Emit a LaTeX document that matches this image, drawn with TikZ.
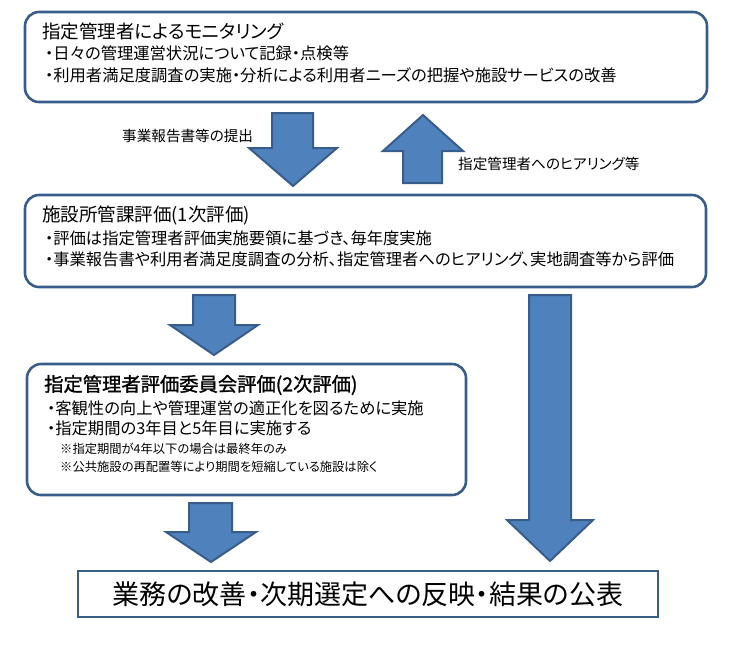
\documentclass[tikz,border=0pt]{standalone}
\usepackage{fontspec}
\setmainfont{Noto Sans CJK JP}[RawFeature=+palt]
\newfontfamily\semiboldjp{Noto Sans CJK JP}[RawFeature=+palt, FakeBold=1.2]
\definecolor{boxline}{HTML}{385D8A}
\definecolor{arrowfill}{HTML}{4F81BD}
\tikzset{
  panel/.style={draw=boxline, line width=2.6pt, rounded corners=14pt},
  plainpanel/.style={draw=boxline, line width=2.6pt},
  blockarrow/.style={draw=boxline, fill=arrowfill, line width=2pt, line join=miter},
  titletext/.style={anchor=west, inner sep=0pt, font=\fontsize{18.5}{20}\selectfont},
  bigtitletext/.style={anchor=west, inner sep=0pt, font=\semiboldjp\fontsize{19.3}{22}\selectfont},
  bodytext/.style={anchor=west, inner sep=0pt, font=\fontsize{16.3}{19}\selectfont},
  notetext/.style={anchor=west, inner sep=0pt, font=\fontsize{12.3}{14}\selectfont},
  labeltext/.style={anchor=west, inner sep=0pt, font=\fontsize{14.6}{17}\selectfont},
  resulttext/.style={anchor=center, inner sep=0pt, font=\fontsize{27}{30}\selectfont},
}
\begin{document}
\begin{tikzpicture}[x=1pt, y=-1pt]
\useasboundingbox (0,0) rectangle (731,649);
% panels
\draw[panel] (25,12) rectangle (707,102);
\draw[panel] (25,195) rectangle (706,287);
\draw[panel] (27,364) rectangle (466,495);
\draw[plainpanel] (78,571) rectangle (658,617);
% block arrows
\draw[blockarrow] (272,113) -- (313,113) -- (313,148) -- (337,148) -- (293,186) -- (249,148) -- (272,148) -- cycle;
\draw[blockarrow] (403,183) -- (442,183) -- (442,151) -- (463,151) -- (423,115) -- (383,151) -- (403,151) -- cycle;
\draw[blockarrow] (193,295) -- (235,295) -- (235,325) -- (258,325) -- (214,355) -- (170,325) -- (193,325) -- cycle;
\draw[blockarrow] (529,295) -- (571,295) -- (571,520) -- (593,520) -- (550,561) -- (507,520) -- (529,520) -- cycle;
\draw[blockarrow] (189,503) -- (232,503) -- (232,532) -- (256,532) -- (211,562) -- (166,532) -- (189,532) -- cycle;
% texts box 1
\node[titletext] (t1) at (42,31) {指定管理者によるモニタリング};
\node[bodytext] (t1a) at (45,53) {・日々の管理運営状況について記録・点検等};
\node[bodytext] (t1b) at (45,75) {・利用者満足度調査の実施・分析による利用者ニーズの把握や施設サービスの改善};
% labels
\node[labeltext] (l1) at (122,136) {事業報告書等の提出};
\node[labeltext] (l2) at (458,164) {指定管理者へのヒアリング等};
% texts box 2
\node[titletext] (t2) at (42,215) {施設所管課評価(1次評価)};
\node[bodytext] (t2a) at (45,238) {・評価は指定管理者評価実施要領に基づき、毎年度実施};
\node[bodytext] (t2b) at (45,259) {・事業報告書や利用者満足度調査の分析、指定管理者へのヒアリング、実地調査等から評価};
% texts box 3
\node[bigtitletext] (t3) at (44,385) {指定管理者評価委員会評価(2次評価)};
\node[bodytext] (t3a) at (47,408) {・客観性の向上や管理運営の適正化を図るために実施};
\node[bodytext] (t3b) at (47,428) {・指定期間の3年目と5年目に実施する};
\node[notetext] (t3c) at (60,449) {※指定期間が4年以下の場合は最終年のみ};
\node[notetext] (t3d) at (60,467) {※公共施設の再配置等により期間を短縮している施設は除く};
% result
\node[resulttext] (t4) at (368,594) {業務の改善・次期選定への反映・結果の公表};
\end{tikzpicture}
\end{document}
